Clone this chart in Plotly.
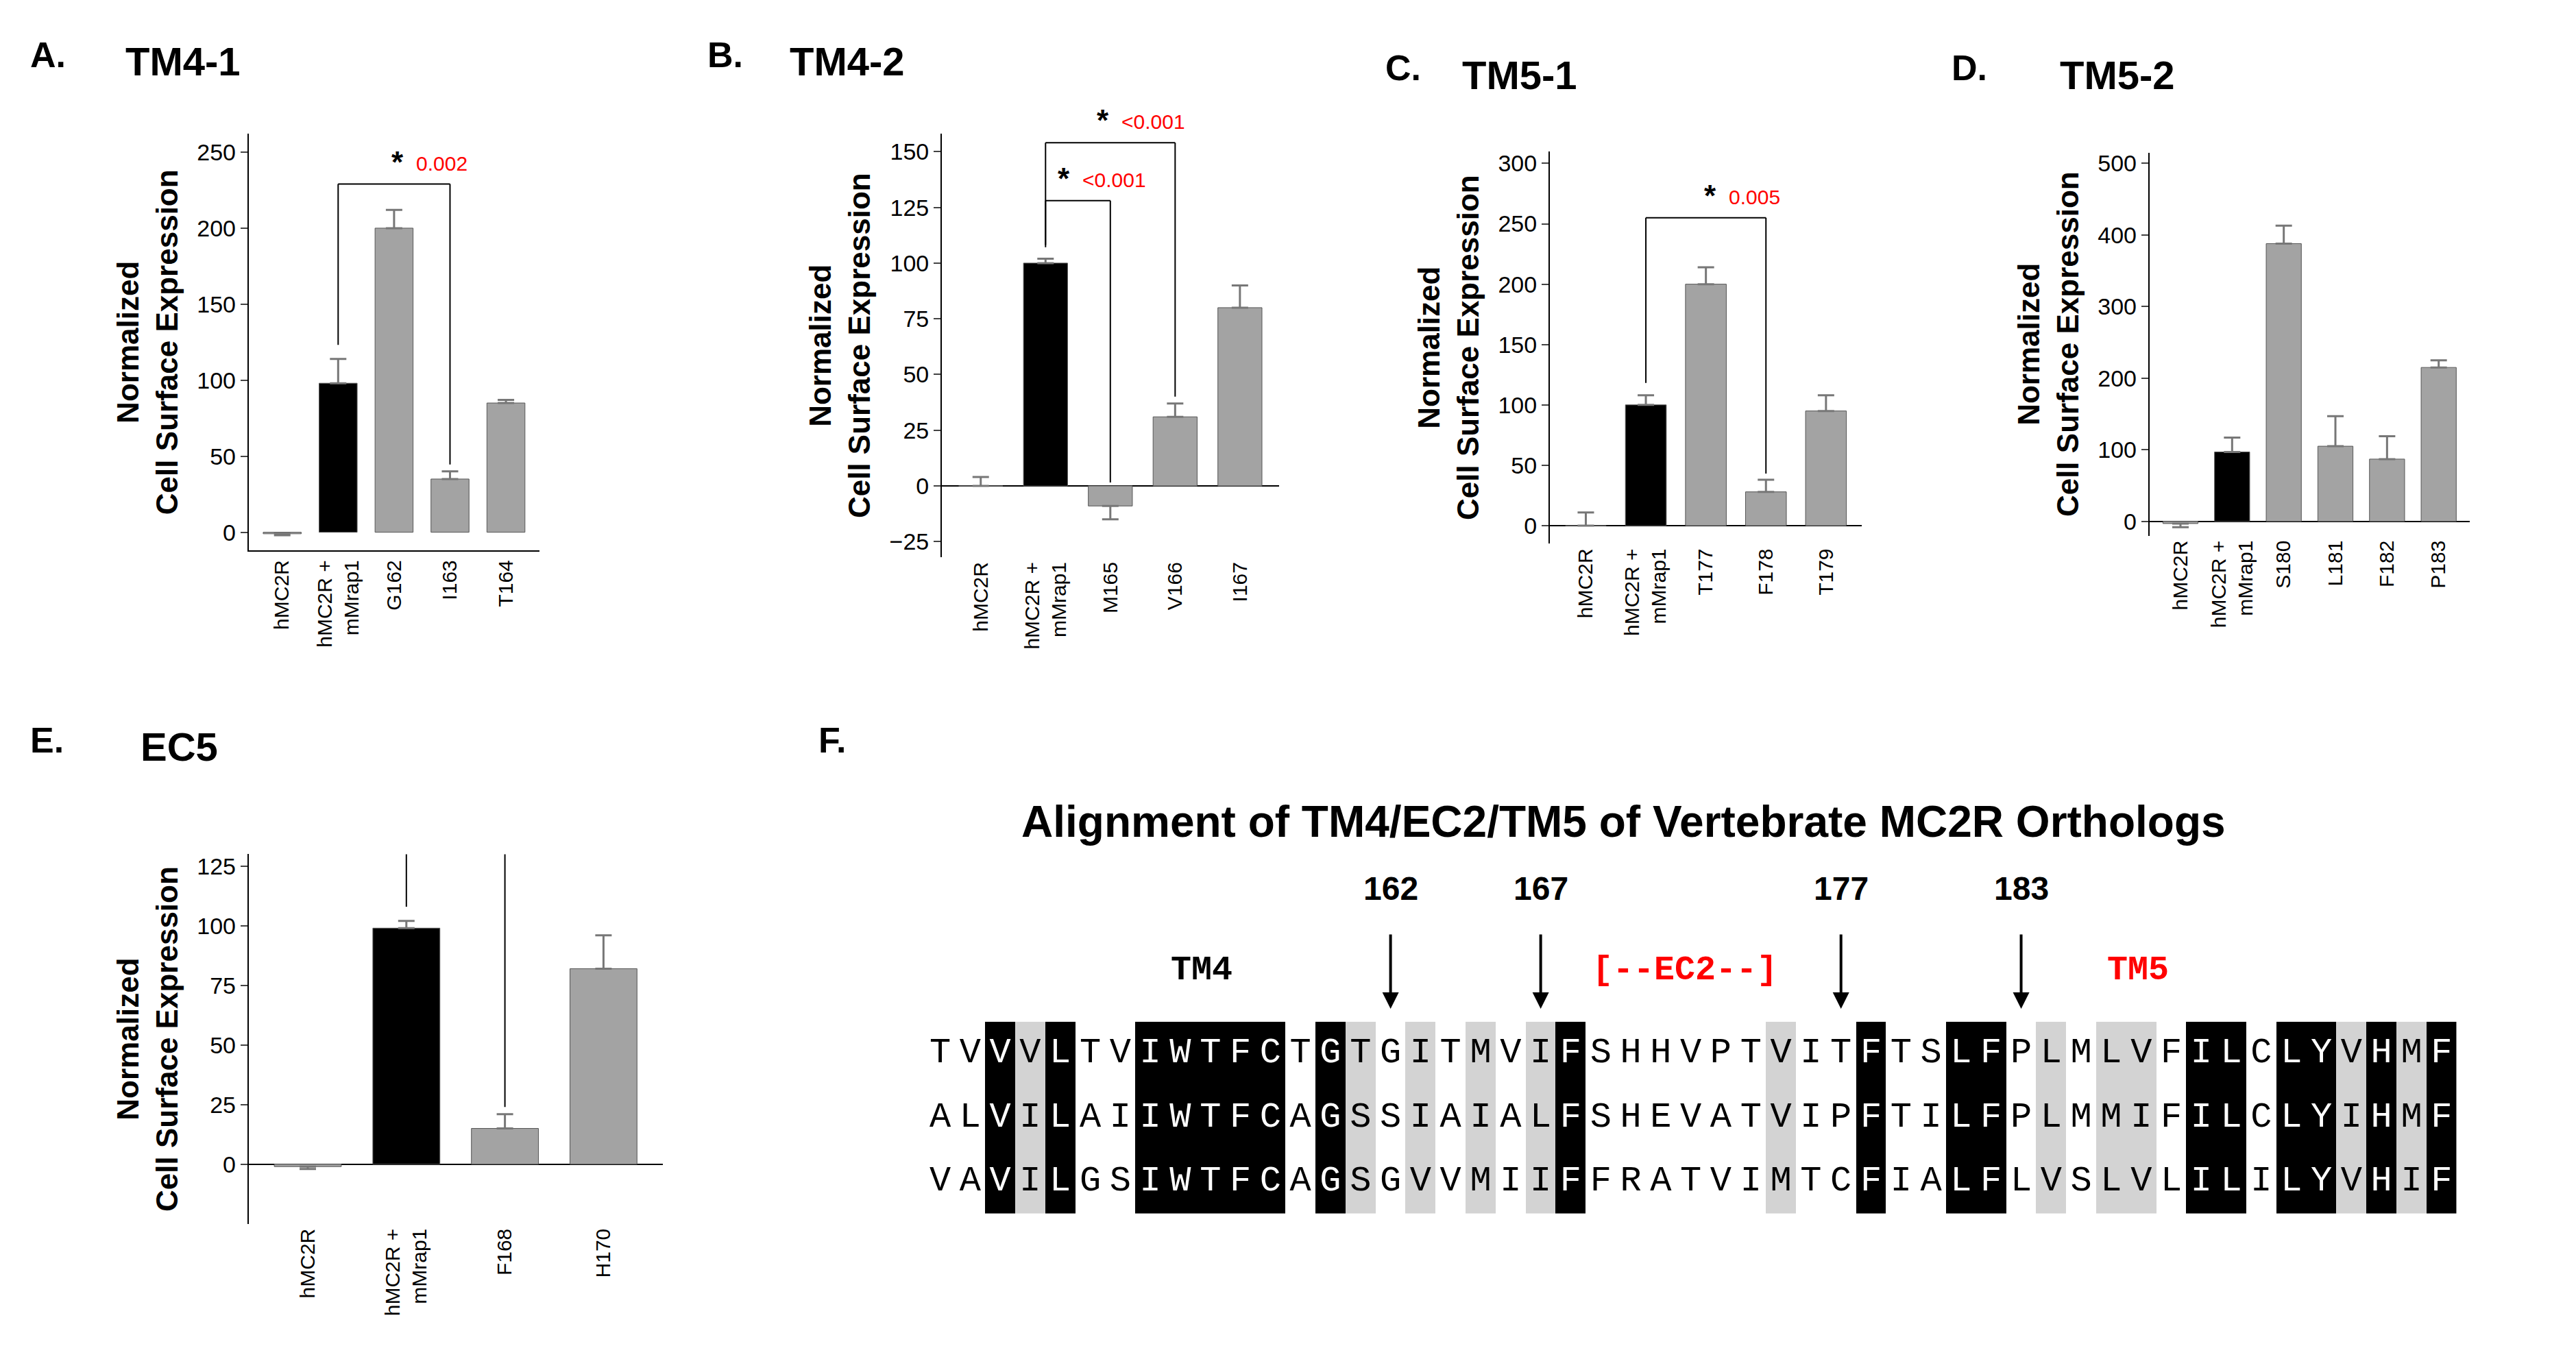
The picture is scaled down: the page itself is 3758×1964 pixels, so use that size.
import plotly.graph_objects as go

# ---- panel data ----
a_cats = ["hMC2R", "hMC2R +<br>mMrap1", "G162", "I163", "T164"]
a_vals = [-1, 98, 200, 35, 85]
a_err = [1, 16, 12, 5, 2]

b_cats = ["hMC2R", "hMC2R +<br>mMrap1", "M165", "V166", "I167"]
b_vals = [0, 100, -9, 31, 80]
b_err = [4, 2, 6, 6, 10]

c_cats = ["hMC2R", "hMC2R +<br>mMrap1", "T177", "F178", "T179"]
c_vals = [0, 100, 200, 28, 95]
c_err = [11, 8, 14, 10, 13]

d_cats = ["hMC2R", "hMC2R +<br>mMrap1", "S180", "L181", "F182", "P183"]
d_vals = [-3, 97, 388, 105, 87, 215]
d_err = [5, 20, 25, 42, 32, 10]

e_cats = ["hMC2R", "hMC2R +<br>mMrap1", "F168", "H170"]
e_vals = [-1, 99, 15, 82]
e_err = [1, 3, 6, 14]

# ---- alignment data ----
seq_names = ["h", "c", "g"]
seqs = [
    "TVVVLTVIWTFCTGTGITMVIFSHHVPTVITFTSLFPLMLVFILCLYVHMF",
    "ALVILAIIWTFCAGSSIAIALFSHEVATVIPFTILFPLMMIFILCLYIHMF",
    "VAVILGSIWTFCAGSGVVMIIFFRATVIMTCFIALFLVSLVLILILYVHIF",
]
black_cols = [2, 4, 7, 8, 9, 10, 11, 13, 21, 31, 34, 35, 42, 43, 45, 46, 48, 50]
gray_cols = [3, 14, 16, 18, 20, 28, 37, 39, 40, 47, 49]
marked_pos = [162, 167, 177, 183]
first_pos = 147  # residue number of column 0

FONT = "Liberation Sans"
MONO = "Liberation Mono"
BLACK = "#000000"
GRAY = "#a3a3a3"

fig = go.Figure()

panels = [
    # cats, vals, err, xdom, ydom, yrange, tickvals, zero_axis
    (a_cats, a_vals, a_err, [0.0944, 0.2073], [0.596, 0.906], [-12, 262], list(range(0, 251, 50)), False),
    (b_cats, b_vals, b_err, [0.3635, 0.4943], [0.591, 0.906], [-32, 158], list(range(-25, 151, 25)), True),
    (c_cats, c_vals, c_err, [0.5995, 0.7207], [0.601, 0.893], [-15, 310], list(range(0, 301, 50)), True),
    (d_cats, d_vals, d_err, [0.8323, 0.9566], [0.607, 0.892], [-20, 515], list(range(0, 501, 100)), True),
    (e_cats, e_vals, e_err, [0.0944, 0.2551], [0.095, 0.370], [-25, 130], list(range(0, 126, 25)), True),
]

for i, (cats, vals, err, xd, yd, yr, tv, zero_axis) in enumerate(panels):
    n = i + 1
    xs = list(range(len(cats)))
    colors = [BLACK if j == 1 else GRAY for j in xs]
    up = [e if v >= 0 else 0 for v, e in zip(vals, err)]
    down = [e if v < 0 else 0 for v, e in zip(vals, err)]
    fig.add_trace(go.Bar(
        x=xs, y=vals, marker=dict(color=colors, line=dict(color="#555555", width=1)),
        width=0.68,
        error_y=dict(type="data", symmetric=False, array=up, arrayminus=down,
                     color="#777777", thickness=3, width=12),
        xaxis=f"x{n}", yaxis=f"y{n}", showlegend=False))
    fig.layout[f"xaxis{n}"] = dict(
        domain=xd, anchor=f"y{n}", range=[-0.6, len(cats) - 0.4],
        tickvals=xs, ticktext=cats, tickangle=-90, ticks="", showgrid=False,
        showline=not zero_axis, linecolor="black", linewidth=2,
        tickfont=dict(family=FONT, size=30, color="black"))
    fig.layout[f"yaxis{n}"] = dict(
        domain=yd, anchor=f"x{n}", range=yr, tickvals=tv, showgrid=False,
        showline=True, linecolor="black", linewidth=2, ticks="outside",
        ticklen=10, tickwidth=2, zeroline=zero_axis, zerolinecolor="black",
        zerolinewidth=2,
        tickfont=dict(family=FONT, size=34, color="black"),
        title=dict(text="<b>Normalized<br>Cell Surface Expression</b>",
                   font=dict(family=FONT, size=44, color="black"), standoff=14))

# ---- significance brackets ----
def bracket(n, i0, i1, vals, err, h, star_x, label):
    top0 = max(vals[i0], 0) + err[i0] + h * 0.04
    top1 = max(vals[i1], 0) + err[i1] + h * 0.02
    xr, yr = f"x{n}", f"y{n}"
    for x0, y0, x1, y1 in [(i0, top0, i0, h), (i0, h, i1, h), (i1, h, i1, top1)]:
        fig.add_shape(type="line", xref=xr, yref=yr, x0=x0, y0=y0, x1=x1, y1=y1,
                      line=dict(color="black", width=2))
    fig.add_annotation(xref=xr, yref=yr, x=star_x, y=h, yshift=6, yanchor="bottom",
                       text="<b>*</b>", showarrow=False, xanchor="right",
                       font=dict(family=FONT, size=44, color="black"))
    fig.add_annotation(xref=xr, yref=yr, x=star_x, y=h, yshift=12, yanchor="bottom",
                       text=label, showarrow=False, xanchor="left", xshift=14,
                       font=dict(family=FONT, size=30, color="red"))

bracket(1, 1, 3, a_vals, a_err, 229, 2.2, "0.002")
bracket(2, 1, 3, b_vals, b_err, 154, 2.0, "<0.001")
bracket(2, 1, 2, [v if v > 0 else 0 for v in b_vals], [e if v > 0 else -1 for v, e in zip(b_vals, b_err)], 128, 1.4, "<0.001")
bracket(3, 1, 3, c_vals, c_err, 255, 2.2, "0.005")
bracket(5, 1, 2, e_vals, e_err, 149, 1.4, "0.001")

# ---- panel letters and titles ----
letters = [("A.", 0.009, 0.965, "TM4-1", 0.046, 0.960),
           ("B.", 0.272, 0.965, "TM4-2", 0.304, 0.960),
           ("C.", 0.535, 0.955, "TM5-1", 0.565, 0.950),
           ("D.", 0.755, 0.955, "TM5-2", 0.797, 0.950),
           ("E.", 0.009, 0.455, "EC5", 0.052, 0.450),
           ("F.", 0.315, 0.455, "", 0, 0)]
for lt, lx, ly, tt, tx, ty in letters:
    fig.add_annotation(xref="paper", yref="paper", x=lx, y=ly, text=f"<b>{lt}</b>",
                       showarrow=False, xanchor="left", yanchor="middle",
                       font=dict(family=FONT, size=52, color="black"))
    if tt:
        fig.add_annotation(xref="paper", yref="paper", x=tx, y=ty, text=f"<b>{tt}</b>",
                           showarrow=False, xanchor="left", yanchor="middle",
                           font=dict(family=FONT, size=58, color="black"))

fig.add_annotation(xref="paper", yref="paper", x=0.628, y=0.394,
                   text="<b>Alignment of TM4/EC2/TM5 of Vertebrate MC2R Orthologs</b>",
                   showarrow=False, font=dict(family=FONT, size=64, color="black"))

# ---- alignment heatmap ----
ncol = len(seqs[0])
shade_row = [2 if j in black_cols else (1 if j in gray_cols else 0) for j in range(ncol)]
z = [shade_row for _ in seqs][::-1]
fig.add_trace(go.Heatmap(
    z=z, x=list(range(ncol)), y=list(range(len(seqs))), zmin=0, zmax=2,
    colorscale=[[0, "white"], [0.33, "white"], [0.34, "#d3d3d3"], [0.66, "#d3d3d3"],
                [0.67, "black"], [1, "black"]],
    showscale=False, hoverinfo="skip", xaxis="x6", yaxis="y6"))
for r, s in enumerate(seqs):
    yrow = len(seqs) - 1 - r
    fig.add_trace(go.Scatter(
        x=list(range(ncol)), y=[yrow] * ncol, mode="text", text=list(s),
        textfont=dict(family=MONO, size=52,
                      color=["white" if j in black_cols else "black" for j in range(ncol)]),
        xaxis="x6", yaxis="y6", showlegend=False, hoverinfo="skip"))
    fig.add_annotation(xref="x6", yref="y6", x=-1.6, y=yrow, text=f"<b>{seq_names[r]}</b>",
                       showarrow=False, xanchor="right",
                       font=dict(family=MONO, size=52, color="black"))
fig.layout["xaxis6"] = dict(domain=[0.357, 0.9515], range=[-0.5, ncol - 0.5], visible=False,
                            anchor="y6")
fig.layout["yaxis6"] = dict(domain=[0.1026, 0.2454], range=[-0.5, len(seqs) - 0.5],
                            visible=False, anchor="x6")

for p in marked_pos:
    fig.add_annotation(xref="x6", yref="paper", x=p - first_pos, y=0.255,
                       ax=0, ay=-110, showarrow=True, arrowhead=2, arrowsize=1.2,
                       arrowwidth=4, arrowcolor="black", text="")
    fig.add_annotation(xref="x6", yref="paper", x=p - first_pos, y=0.33,
                       text=f"<b>{p}</b>", showarrow=False,
                       font=dict(family=FONT, size=48, color="black"))

for txt, col, color in [("TM4", 8.7, "black"), ("[--EC2--]", 24.8, "red"), ("TM5", 39.9, "red")]:
    fig.add_annotation(xref="x6", yref="paper", x=col, y=0.268, text=f"<b>{txt}</b>",
                       showarrow=False,
                       font=dict(family=MONO, size=50, color=color))

fig.update_layout(width=3758, height=1964, plot_bgcolor="white", paper_bgcolor="white",
                  margin=dict(l=0, r=0, t=0, b=0), bargap=0.3)
fig.write_html("out.html")
